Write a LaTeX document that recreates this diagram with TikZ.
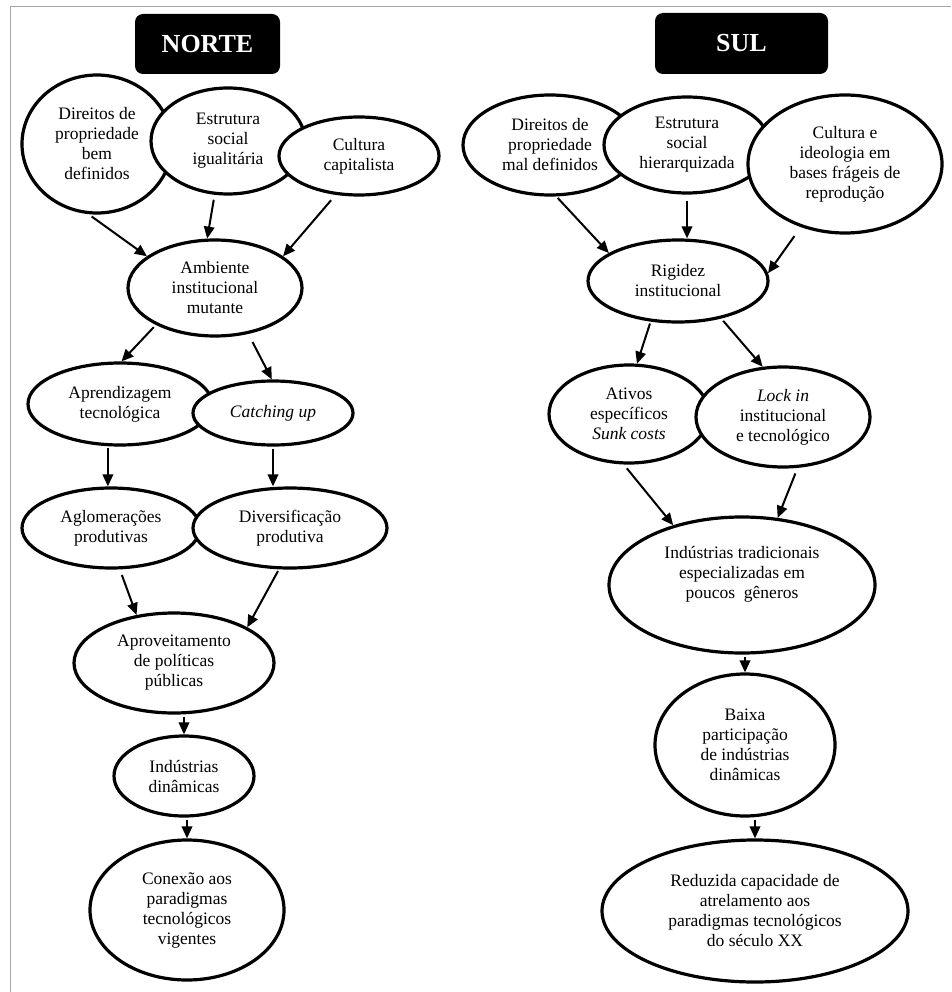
\documentclass[tikz,border=0pt]{standalone}
\usepackage{fontspec}
\setmainfont{Liberation Serif}
\usetikzlibrary{shapes.geometric,arrows.meta,calc}

\tikzset{
  bolha/.style={ellipse, draw, line width=3.2pt, fill=white, align=center,
    inner sep=0pt, font=\fontsize{17.5}{20}\selectfont},
  titulo/.style={fill=black, rounded corners=8pt, text=white,
    font=\bfseries\fontsize{26}{30}\selectfont},
  seta/.style={line width=2pt, -{Triangle[length=12pt,width=10.5pt]}}
}

\begin{document}
\begin{tikzpicture}[x=1pt,y=-1pt]
    \useasboundingbox (0,0) rectangle (951,992);

    % Moldura
    \draw[black!35, line width=1.5pt] (10.5,992) -- (10.5,6.5) -- (951,6.5);

    % Títulos
    \node[titulo, minimum width=145pt, minimum height=60pt] (norte) at (207.5,44) {NORTE};
    \node[titulo, minimum width=173pt, minimum height=61pt] (sul) at (741.5,43.5) {SUL};

    % Bolhas do Norte
    \node[bolha, minimum width=150pt, minimum height=138pt] (dirN) at (97,144) {Direitos de\\propriedade\\bem\\definidos};
    \node[bolha, minimum width=154pt, minimum height=106pt] (estN) at (228,141) {Estrutura\\social\\igualitária};
    \node[bolha, minimum width=160pt, minimum height=78pt] (culN) at (359,156) {Cultura\\capitalista};
    \node[bolha, minimum width=174pt, minimum height=96pt] (amb) at (215,288) {Ambiente\\institucional\\mutante};
    \node[bolha, minimum width=184pt, minimum height=82pt] (apr) at (120,404) {Aprendizagem\\tecnológica};
    \node[bolha, minimum width=160pt, minimum height=64pt] (catch) at (273,413) {\textit{Catching up}};
    \node[bolha, minimum width=178pt, minimum height=80pt] (agl) at (111,528) {Aglomerações\\produtivas};
    \node[bolha, minimum width=194pt, minimum height=80pt] (div) at (290,528) {Diversificação\\produtiva};
    \node[bolha, minimum width=200pt, minimum height=100pt] (apro) at (174,663) {Aproveitamento\\de políticas\\públicas};
    \node[bolha, minimum width=140pt, minimum height=80pt] (indN) at (184,776) {Indústrias\\dinâmicas};
    \node[bolha, minimum width=194pt, minimum height=140pt] (conN) at (187,910) {Conexão aos\\paradigmas\\tecnológicos\\vigentes};

    % Bolhas do Sul
    \node[bolha, minimum width=174pt, minimum height=100pt] (dirS) at (550,145) {Direitos de\\propriedade\\mal definidos};
    \node[bolha, minimum width=166pt, minimum height=96pt] (estS) at (687,145) {Estrutura\\social\\hierarquizada};
    \node[bolha, minimum width=194pt, minimum height=138pt] (culS) at (845,164) {Cultura e\\ideologia em\\bases frágeis de\\reprodução};
    \node[bolha, minimum width=180pt, minimum height=82pt] (rig) at (678,281) {Rigidez\\institucional};
    \node[bolha, minimum width=160pt, minimum height=98pt] (ati) at (629,414) {Ativos\\específicos\\\textit{Sunk costs}};
    \node[bolha, minimum width=174pt, minimum height=100pt] (lock) at (783,417) {\textit{Lock in}\\institucional\\e tecnológico};
    \node[bolha, minimum width=266pt, minimum height=136pt] (indS) at (742,585) {Indústrias tradicionais\\especializadas em\\poucos\ \ gêneros\\\strut};
    \node[bolha, minimum width=180pt, minimum height=142pt] (baixa) at (745,745) {Baixa\\participação\\de indústrias\\dinâmicas};
    \node[bolha, minimum width=306pt, minimum height=142pt] (red) at (755,911) {Reduzida capacidade de\\atrelamento aos\\paradigmas tecnológicos\\do século XX};

    % Setas do Norte
    \draw[seta, shorten <=4pt] (dirN.263) -- (amb.155);
    \draw[seta, shorten <=5pt] (estN.256) -- (amb.99);
    \draw[seta, shorten <=7pt] (culN.239) -- (amb.25);
    \draw[seta, shorten <=3pt] (amb.212) -- (apr.88);
    \draw[seta, shorten <=9pt] (amb.306) -- (catch.92);
    \draw[seta, shorten <=2pt] (apr.254) -- (apr.254 |- agl.north);
    \draw[seta, shorten <=2pt] (catch.south) -- (catch.south |- div.north);
    \draw[seta, shorten <=6pt] (agl.282) -- (apro.128);
    \draw[seta, shorten <=2pt] (div.255) -- (apro.26);
    \draw[seta, shorten <=2pt] (apro.south -| indN.north) -- (indN.north);
    \draw[seta, shorten <=2pt] (indN.south -| conN.north) -- (conN.north);

    % Setas do Sul
    \draw[seta, shorten <=2pt] (dirS.277) -- (rig.158);
    \draw[seta, shorten <=6pt] (estS.south) -- (estS.south |- rig.north);
    \draw[seta, shorten <=11pt] (culS.235) -- (rig.5);
    \draw[seta, shorten <=2pt] (rig.236) -- (ati.81);
    \draw[seta, shorten <=3pt] (rig.319) -- (lock.112);
    \draw[seta, shorten <=5pt] (ati.264) -- (indS.139);
    \draw[seta, shorten <=6pt] (lock.286) -- (indS.62);
    \draw[seta, shorten <=2pt] (indS.south -| baixa.north) -- (baixa.north);
    \draw[seta, shorten <=2pt] (baixa.south -| red.north) -- (red.north);
\end{tikzpicture}
\end{document}
